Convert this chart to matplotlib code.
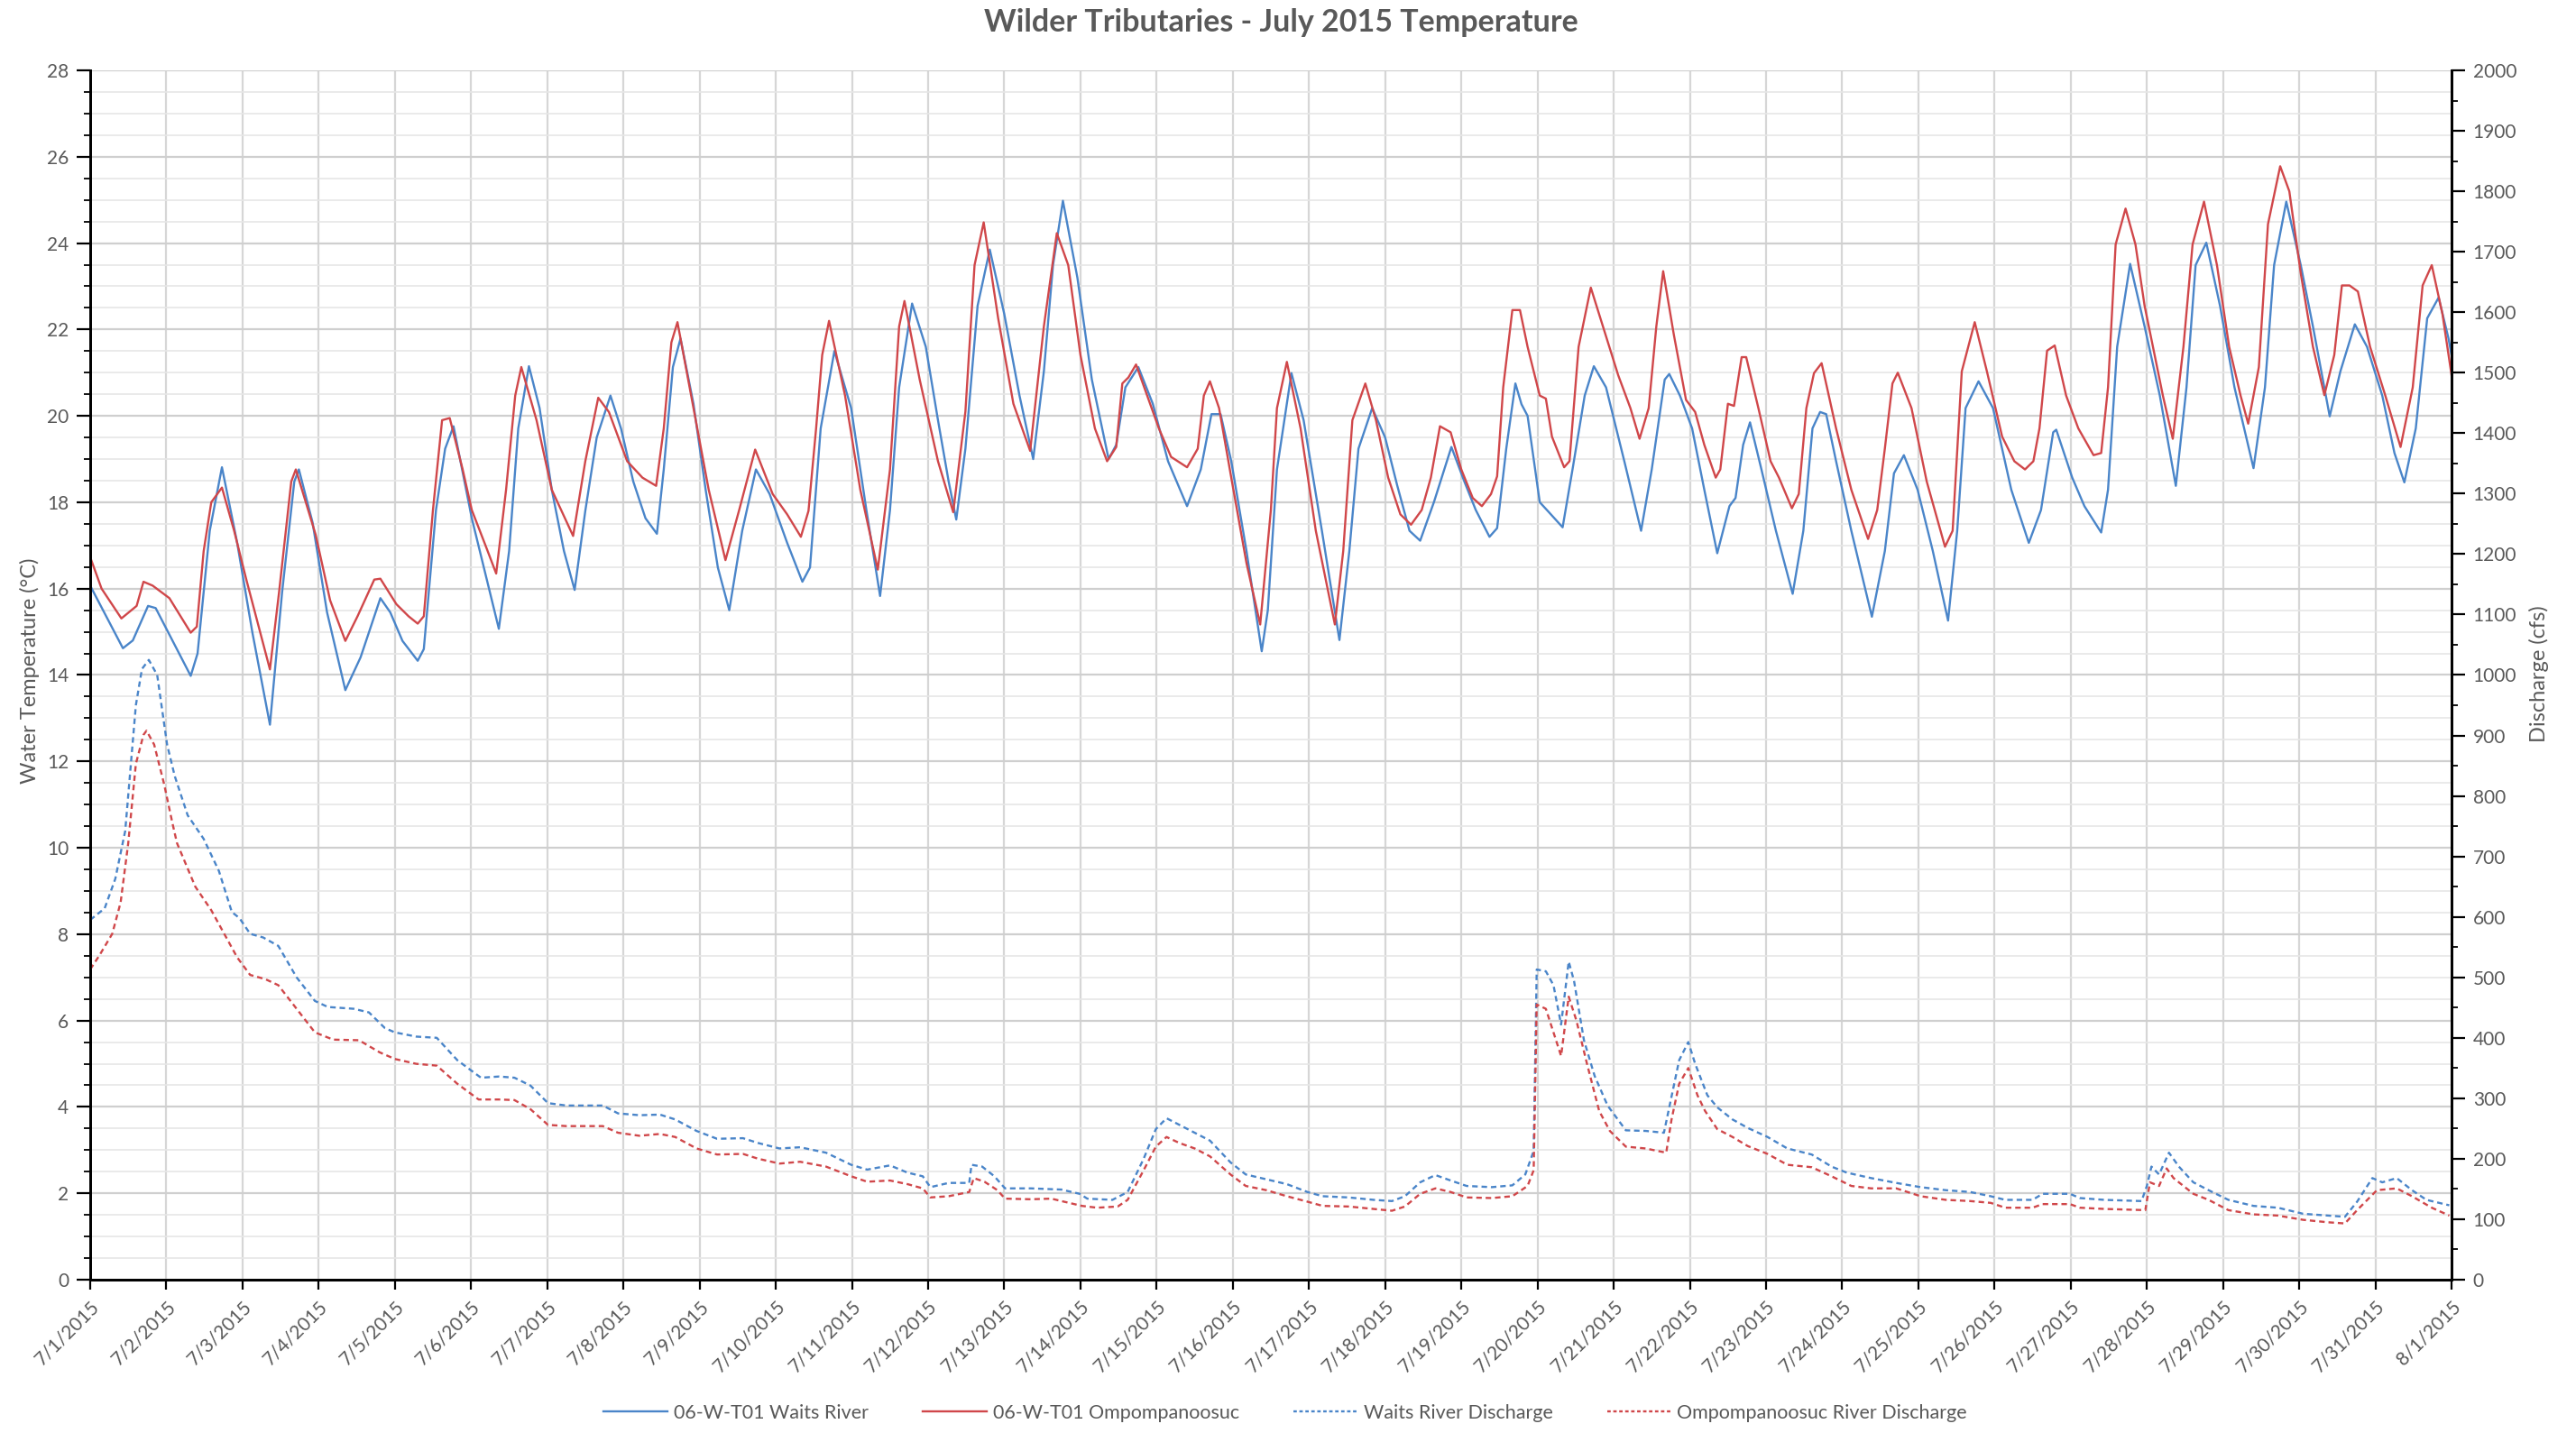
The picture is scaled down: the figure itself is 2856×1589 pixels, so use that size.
import matplotlib
matplotlib.use("Agg")
import matplotlib.pyplot as plt
from matplotlib.ticker import MultipleLocator
from matplotlib.lines import Line2D

# time axis is days since 7/1/2015 00:00
waits_temp_day = [
    0.00, 0.43, 0.56, 0.76, 0.86, 1.32, 1.41, 1.57, 1.73, 1.93, 2.13, 2.36, 2.52, 2.68, 2.74,
    2.92, 3.11, 3.35, 3.55, 3.81, 3.94, 4.10, 4.30, 4.38, 4.54, 4.66, 4.77, 5.01, 5.365, 5.50,
    5.62, 5.76, 5.90, 6.06, 6.22, 6.36, 6.50, 6.65, 6.83, 6.97, 7.13, 7.29, 7.44, 7.53, 7.65,
    7.75, 7.92, 8.08, 8.24, 8.39, 8.56, 8.74, 8.92, 9.15, 9.35, 9.45, 9.59, 9.77, 9.99, 10.19,
    10.37, 10.50, 10.62, 10.79, 10.97, 11.13, 11.27, 11.37, 11.49, 11.65, 11.81, 12.00, 12.20,
    12.38, 12.52, 12.64, 12.77, 12.96, 13.15, 13.37, 13.47, 13.59, 13.76, 13.95, 14.15, 14.40,
    14.58, 14.72, 14.84, 14.98, 15.18, 15.38, 15.46, 15.58, 15.77, 15.93, 16.17, 16.40, 16.53,
    16.65, 16.83, 17.00, 17.16, 17.32, 17.46, 17.64, 17.87, 18.04, 18.19, 18.37, 18.47, 18.59,
    18.71, 18.79, 18.87, 19.03, 19.15, 19.33, 19.46, 19.62, 19.74, 19.90, 20.14, 20.36, 20.50,
    20.67, 20.73, 20.87, 21.03, 21.19, 21.36, 21.52, 21.60, 21.70, 21.79, 21.94, 22.13, 22.35,
    22.49, 22.61, 22.71, 22.79, 22.92, 23.12, 23.39, 23.56, 23.68, 23.81, 23.99, 24.19, 24.39,
    24.51, 24.62, 24.79, 24.98, 25.22, 25.45, 25.61, 25.77, 25.81, 26.02, 26.18, 26.40, 26.49,
    26.61, 26.78, 26.97, 27.17, 27.38, 27.52, 27.64, 27.78, 27.96, 28.15, 28.40, 28.55, 28.67,
    28.83, 29.02, 29.18, 29.40, 29.54, 29.73, 29.89, 30.09, 30.25, 30.38, 30.53, 30.68, 30.83,
    30.96, 31.00,
]
waits_temp = [
    16.07, 14.62, 14.80, 15.60, 15.55, 13.98, 14.50, 17.34, 18.81, 17.06, 14.98, 12.85, 15.92, 18.48, 18.76,
    17.53, 15.45, 13.65, 14.41, 15.78, 15.45, 14.79, 14.33, 14.60, 17.82, 19.24, 19.76, 17.63, 15.07, 16.87,
    19.71, 21.15, 20.18, 18.29, 16.87, 15.97, 17.80, 19.50, 20.47, 19.70, 18.48, 17.63, 17.27, 18.76, 21.13,
    21.79, 20.28, 18.29, 16.49, 15.50, 17.34, 18.76, 18.19, 17.06, 16.16, 16.49, 19.71, 21.50, 20.18, 17.82,
    15.83, 17.82, 20.66, 22.60, 21.60, 19.90, 18.48, 17.60, 19.24, 22.55, 23.85, 22.36, 20.47,
    19.00, 21.03, 23.49, 24.98, 23.20, 20.84, 19.00, 19.33, 20.66, 21.13, 20.28, 18.95, 17.91,
    18.76, 20.04, 20.04, 18.95, 16.87, 14.55, 15.50, 18.76, 20.99, 19.90, 17.34, 14.81, 16.87,
    19.24, 20.18, 19.50, 18.38, 17.34, 17.11, 18.00, 19.28, 18.48, 17.82, 17.20, 17.40, 19.24,
    20.75, 20.27, 20.00, 18.00, 17.77, 17.42, 18.76, 20.47, 21.15, 20.66, 18.95, 17.34, 18.76,
    20.84, 20.97, 20.47, 19.71, 18.29, 16.82, 17.91, 18.10, 19.33, 19.85, 18.76, 17.34, 15.88,
    17.34, 19.71, 20.09, 20.04, 18.95, 17.34, 15.35, 16.87, 18.67, 19.09, 18.29, 16.87, 15.26,
    17.34, 20.18, 20.80, 20.18, 18.29, 17.06, 17.82, 19.62, 19.68, 18.57, 17.91, 17.30, 18.29,
    21.60, 23.52, 22.07, 20.47, 18.38, 20.66, 23.49, 24.01, 22.55, 20.66, 18.79, 20.66, 23.49,
    24.96, 23.49, 22.07, 19.99, 21.03, 22.12, 21.60, 20.47, 19.14, 18.46, 19.71, 22.26, 22.74,
    21.79, 21.40,
]

omp_temp_day = [
    0.00, 0.15, 0.41, 0.61, 0.70, 0.82, 1.04, 1.32, 1.40, 1.49, 1.59, 1.73, 1.89, 2.05, 2.36,
    2.48, 2.64, 2.70, 2.96, 3.15, 3.35, 3.51, 3.73, 3.81, 4.02, 4.18, 4.30, 4.38, 4.50, 4.62,
    4.72, 4.89, 5.01, 5.19, 5.33, 5.46, 5.58, 5.66, 5.86, 6.06, 6.34, 6.50, 6.67, 6.81, 7.05,
    7.25, 7.43, 7.53, 7.63, 7.71, 7.92, 8.12, 8.34, 8.52, 8.73, 8.96, 9.15, 9.33, 9.43, 9.53,
    9.61, 9.70, 9.91, 10.11, 10.34, 10.50, 10.62, 10.69, 10.89, 11.13, 11.33, 11.49, 11.61,
    11.73, 11.92, 12.12, 12.34, 12.52, 12.69, 12.84, 13.00, 13.19, 13.35, 13.47, 13.55, 13.63,
    13.73, 14.03, 14.19, 14.40, 14.54, 14.62, 14.70, 14.82, 14.98, 15.18, 15.36, 15.50, 15.58,
    15.71, 15.89, 16.09, 16.34, 16.45, 16.57, 16.74, 16.88, 17.04, 17.20, 17.34, 17.48, 17.60,
    17.72, 17.86, 18.00, 18.15, 18.27, 18.39, 18.47, 18.55, 18.67, 18.77, 18.87, 19.03, 19.11,
    19.19, 19.35, 19.42, 19.54, 19.70, 19.86, 20.06, 20.22, 20.34, 20.46, 20.56, 20.65, 20.79,
    20.95, 21.07, 21.19, 21.34, 21.40, 21.50, 21.58, 21.68, 21.74, 21.90, 22.06, 22.17, 22.34,
    22.43, 22.53, 22.63, 22.73, 22.92, 23.12, 23.34, 23.46, 23.56, 23.66, 23.73, 23.91, 24.11,
    24.35, 24.45, 24.57, 24.74, 24.90, 25.10, 25.26, 25.40, 25.51, 25.59, 25.69, 25.79, 25.94,
    26.10, 26.30, 26.40, 26.49, 26.59, 26.72, 26.85, 26.97, 27.21, 27.34, 27.48, 27.60, 27.75,
    27.92, 28.08, 28.23, 28.33, 28.47, 28.59, 28.75, 28.87, 29.02, 29.18, 29.33, 29.46, 29.56,
    29.66, 29.77, 29.93, 30.13, 30.33, 30.49, 30.62, 30.74, 30.88, 31.00,
]
omp_temp = [
    16.73, 16.00, 15.31, 15.60, 16.16, 16.07, 15.78, 14.98, 15.12, 16.87, 18.00, 18.34, 17.34, 16.21, 14.13,
    15.92, 18.48, 18.76, 17.25, 15.73, 14.79, 15.36, 16.21, 16.23, 15.64, 15.36, 15.19, 15.36, 17.82, 19.90,
    19.95, 18.76, 17.82, 17.00, 16.35, 18.29, 20.47, 21.13, 19.90, 18.29, 17.22, 18.95, 20.42, 20.09, 18.95,
    18.57, 18.38, 19.71, 21.70, 22.17, 20.18, 18.29, 16.66, 17.82, 19.22, 18.19, 17.72, 17.20, 17.80, 19.71,
    21.41, 22.20, 20.47, 18.29, 16.44, 18.76, 22.07, 22.66, 20.84, 18.95, 17.77, 20.10, 23.49,
    24.48, 22.26, 20.28, 19.19, 22.07, 24.23, 23.49, 21.41, 19.71, 18.95, 19.28, 20.75, 20.89,
    21.19, 19.71, 19.05, 18.81, 19.24, 20.47, 20.80, 20.18, 18.57, 16.59, 15.17, 17.82, 20.18,
    21.25, 19.71, 17.34, 15.17, 16.87, 19.90, 20.75, 19.90, 18.57, 17.72, 17.48, 17.82, 18.57,
    19.76, 19.62, 18.76, 18.10, 17.91, 18.19, 18.60, 20.66, 22.45, 22.45, 21.60, 20.47, 20.40,
    19.52, 18.81, 18.95, 21.60, 22.97, 22.07, 20.94, 20.18, 19.47, 20.18, 22.07, 23.35, 21.88,
    20.37, 20.09, 19.33, 18.57, 18.76, 20.28, 20.23, 21.36, 21.36, 20.18, 18.95, 18.57, 17.86,
    18.19, 20.18, 20.99, 21.22, 19.71, 18.29, 17.15, 17.82, 19.24, 20.75, 21.00, 20.18, 18.48,
    16.97, 17.34, 21.03, 22.17, 21.03, 19.52, 18.95, 18.76, 18.95, 19.71, 21.51, 21.63, 20.47,
    19.71, 19.09, 19.14, 20.66, 23.97, 24.80, 23.97, 22.55, 20.47, 19.47, 21.60, 23.97, 24.96,
    23.49, 21.60, 20.47, 19.82, 21.13, 24.44, 25.78, 25.20, 23.30, 21.60, 20.48, 21.41, 23.02,
    23.02, 22.88, 21.60, 20.47, 19.28, 20.66, 23.02, 23.49, 22.36, 20.94,
]

waits_q_day = [
    0.00, 0.19, 0.33, 0.46, 0.60, 0.68, 0.77, 0.88, 1.01, 1.11, 1.28, 1.49, 1.69, 1.86, 1.96,
    2.10, 2.27, 2.47, 2.71, 2.95, 3.12, 3.46, 3.66, 3.87, 4.00, 4.28, 4.55, 4.82, 5.13, 5.37,
    5.57, 5.78, 6.01, 6.25, 6.73, 6.93, 7.21, 7.48, 7.68, 7.96, 8.23, 8.57, 8.77, 9.05, 9.32,
    9.66, 9.99, 10.20, 10.50, 10.73, 10.93, 11.03, 11.27, 11.54, 11.57, 11.71, 11.87, 12.01,
    12.35, 12.75, 12.99, 13.09, 13.42, 13.62, 13.83, 13.99, 14.13, 14.30, 14.50, 14.70, 14.97,
    15.17, 15.44, 15.71, 15.98, 16.18, 16.52, 16.85, 17.09, 17.26, 17.46, 17.66, 17.86, 18.07,
    18.40, 18.67, 18.84, 18.95, 18.99, 19.11, 19.21, 19.31, 19.41, 19.48, 19.61, 19.75, 19.92,
    20.16, 20.42, 20.66, 20.72, 20.86, 20.98, 21.07, 21.23, 21.36, 21.56, 21.76, 22.02, 22.28,
    22.60, 22.86, 23.06, 23.38, 23.71, 24.03, 24.36, 24.68, 24.95, 25.14, 25.50, 25.63, 25.99,
    26.12, 26.44, 26.93, 27.00, 27.06, 27.16, 27.29, 27.42, 27.61, 27.81, 28.07, 28.40, 28.72,
    29.05, 29.37, 29.60, 29.76, 29.96, 30.09, 30.28, 30.48, 30.67, 30.97,
]
waits_q = [
    595, 614, 663, 742, 950, 1010, 1025, 1000, 885, 833, 768, 729, 676, 608, 598,
    572, 566, 552, 500, 461, 451, 448, 442, 416, 409, 402, 400, 363, 334, 336,
    334, 321, 292, 288, 288, 275, 272, 273, 265, 246, 233, 234, 226, 217, 219,
    210, 190, 182, 189, 177, 171, 153, 160, 160, 190, 187, 171, 151,
    151, 149, 142, 134, 132, 145, 200, 249, 267, 256, 243, 230, 194,
    174, 166, 158, 145, 138, 136, 132, 130, 138, 161, 173, 164, 155,
    153, 156, 174, 213, 513, 510, 487, 422, 526, 494, 396, 337, 288,
    247, 246, 243, 279, 363, 393, 357, 305, 285, 265, 251, 236, 217,
    207, 187, 177, 168, 160, 153, 148, 145, 138, 132, 132, 142, 142,
    135, 132, 130, 155, 187, 174, 210, 187, 161, 148, 132, 122, 119,
    109, 106, 104, 129, 168, 161, 168, 148, 132, 123,
]

omp_q_day = [
    0.00, 0.12, 0.29, 0.40, 0.50, 0.60, 0.70, 0.74, 0.84, 0.97, 1.08, 1.14, 1.25, 1.38, 1.59,
    1.76, 1.93, 2.10, 2.30, 2.47, 2.71, 2.95, 3.19, 3.53, 3.80, 4.00, 4.28, 4.55, 4.82, 5.10,
    5.37, 5.57, 5.78, 6.01, 6.25, 6.73, 6.93, 7.21, 7.48, 7.68, 7.96, 8.23, 8.57, 8.77, 9.05,
    9.32, 9.66, 9.99, 10.20, 10.50, 10.73, 10.93, 11.03, 11.27, 11.54, 11.60, 11.74, 11.91,
    12.01, 12.35, 12.62, 12.75, 13.02, 13.22, 13.49, 13.62, 13.83, 13.99, 14.13, 14.30, 14.50,
    14.70, 14.97, 15.17, 15.44, 15.71, 15.98, 16.18, 16.52, 16.85, 17.09, 17.26, 17.46, 17.66,
    17.86, 18.07, 18.40, 18.67, 18.87, 18.95, 18.99, 19.11, 19.21, 19.31, 19.41, 19.51, 19.65,
    19.81, 19.95, 20.16, 20.42, 20.69, 20.76, 20.86, 20.98, 21.10, 21.20, 21.36, 21.56, 21.76,
    22.02, 22.28, 22.60, 22.86, 23.12, 23.38, 23.71, 24.03, 24.36, 24.68, 24.95, 25.14, 25.50,
    25.63, 25.99, 26.12, 26.44, 26.98, 27.04, 27.16, 27.26, 27.35, 27.61, 27.81, 28.07, 28.40,
    28.72, 29.05, 29.37, 29.60, 29.76, 30.02, 30.28, 30.48, 30.74, 30.97,
]
omp_q = [
    513, 536, 572, 624, 722, 853, 901, 908, 885, 820, 755, 722, 689, 650, 611,
    572, 533, 504, 497, 487, 448, 409, 397, 396, 376, 365, 357, 354, 324, 298,
    298, 297, 282, 256, 254, 254, 243, 238, 241, 236, 217, 207, 208, 200, 192,
    195, 187, 171, 162, 164, 158, 151, 136, 138, 145, 168, 162, 148,
    134, 133, 134, 130, 122, 119, 121, 132, 181, 220, 236, 226, 217,
    204, 174, 155, 148, 138, 129, 122, 121, 117, 114, 121, 142, 151,
    145, 136, 135, 138, 155, 181, 455, 448, 409, 370, 468, 429, 357,
    279, 246, 220, 217, 210, 265, 324, 350, 305, 279, 249, 236, 221,
    208, 190, 186, 171, 155, 151, 151, 138, 132, 130, 127, 119, 119,
    125, 125, 119, 117, 115, 161, 155, 184, 168, 142, 132, 115, 108,
    106, 99, 95, 93, 115, 148, 151, 138, 119, 106,
]

date_labels = [f"7/{d}/2015" for d in range(1, 32)] + ["8/1/2015"]
series_names = ["06-W-T01 Waits River", "06-W-T01 Ompompanoosuc",
                "Waits River Discharge", "Ompompanoosuc River Discharge"]

BLUE = "#4a85c9"
RED = "#d0474a"
TXT = "#595959"
FONT = ["Lato", "DejaVu Sans"]

plt.rcParams["font.family"] = FONT

fig = plt.figure(figsize=(28.56, 15.89), dpi=100)
ax = fig.add_axes([0.0350, 0.1070, 0.9167, 0.8439])
ax2 = ax.twinx()

# discharge on the secondary axis
dash = (2.6, 1.8)
ax2.plot(waits_q_day, waits_q, color=BLUE, lw=1.7, dashes=dash)
ax2.plot(omp_q_day, omp_q, color=RED, lw=1.7, dashes=dash)

# water temperature on the primary axis
ax.plot(waits_temp_day, waits_temp, color=BLUE, lw=1.7, solid_joinstyle="round")
ax.plot(omp_temp_day, omp_temp, color=RED, lw=1.7, solid_joinstyle="round")

ax.set_xlim(0, 31)
ax.set_ylim(0, 28)
ax2.set_ylim(0, 2000)

ax.set_xticks(range(32))
ax.set_xticklabels(date_labels, rotation=45, ha="right", va="top",
                   rotation_mode="anchor", fontsize=15, color=TXT)
ax.set_yticks(range(0, 29, 2))
ax.yaxis.set_minor_locator(MultipleLocator(0.5))
ax2.set_yticks(range(0, 2001, 100))
ax2.yaxis.set_minor_locator(MultipleLocator(50))

ax.tick_params(axis="x", length=8, width=1.6, pad=6)
ax.tick_params(axis="y", which="major", length=11, width=1.6, labelsize=15,
               labelcolor=TXT, pad=6)
ax.tick_params(axis="y", which="minor", length=5, width=1.3)
ax2.tick_params(axis="y", which="major", length=11, width=1.6, labelsize=15,
                labelcolor=TXT, pad=6)
ax2.tick_params(axis="y", which="minor", length=5, width=1.3)

ax.grid(axis="x", which="major", color="#d6d6d6", lw=1.6)
ax.grid(axis="y", which="major", color="#cfcfcf", lw=1.6)
ax.grid(axis="y", which="minor", color="#e6e6e6", lw=1.2)
ax.set_axisbelow(True)

for a in (ax, ax2):
    a.spines["top"].set_visible(False)
    for side in ("left", "right", "bottom"):
        a.spines[side].set_linewidth(2)
        a.spines[side].set_color("black")

fig.text(0.4975, 0.984, "Wilder Tributaries - July 2015 Temperature",
         ha="center", va="center", fontsize=24.5, fontweight="bold", color=TXT)
fig.text(0.0115, 0.532, "Water Temperature (°C)", rotation=90,
         ha="center", va="center", fontsize=17, color=TXT)
fig.text(0.9855, 0.53, "Discharge (cfs)", rotation=90,
         ha="center", va="center", fontsize=17, color=TXT)

handles = [
    Line2D([], [], color=BLUE, lw=1.7),
    Line2D([], [], color=RED, lw=1.7),
    Line2D([], [], color=BLUE, lw=1.7, dashes=(1.6, 1.2)),
    Line2D([], [], color=RED, lw=1.7, dashes=(1.6, 1.2)),
]
leg = fig.legend(handles, series_names, loc="center", bbox_to_anchor=(0.499, 0.014),
                 ncol=4, frameon=False, fontsize=15.5, handlelength=3.3,
                 handletextpad=0.3, columnspacing=2.8)
for t in leg.get_texts():
    t.set_color(TXT)

fig.savefig("out.png", dpi=100)
